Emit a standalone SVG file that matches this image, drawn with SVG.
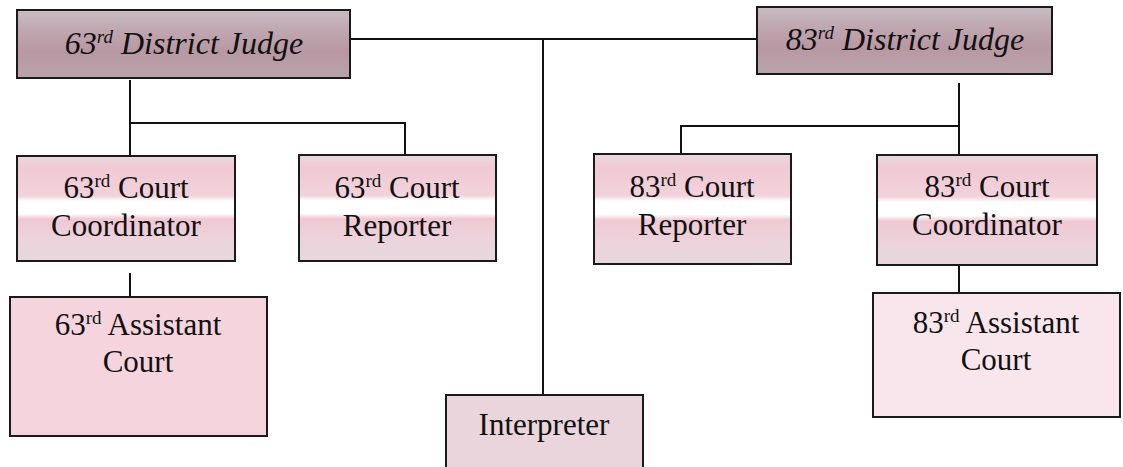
<svg xmlns="http://www.w3.org/2000/svg" width="1123" height="467" viewBox="0 0 1123 467">
<defs>
<linearGradient id="judge" x1="0" y1="0" x2="0" y2="1">
<stop offset="0" stop-color="#c9bcc2"/>
<stop offset="0.3" stop-color="#bfa7b0"/>
<stop offset="0.6" stop-color="#b898a3"/>
<stop offset="1" stop-color="#b9a3ab"/>
</linearGradient>
<linearGradient id="court" x1="0" y1="0" x2="0" y2="1">
<stop offset="0" stop-color="#e9d9df"/>
<stop offset="0.12" stop-color="#f0c9d4"/>
<stop offset="0.38" stop-color="#f2d2db"/>
<stop offset="0.43" stop-color="#ffffff"/>
<stop offset="0.55" stop-color="#ffffff"/>
<stop offset="0.6" stop-color="#f0c8d3"/>
<stop offset="0.8" stop-color="#ecd3dc"/>
<stop offset="1" stop-color="#e6d8de"/>
</linearGradient>
</defs>
<style>
.box{stroke:#1a1a1a;stroke-width:2}
.j{fill:url(#judge)}
.c{fill:url(#court)}
.a1{fill:#f6d4de}
.a2{fill:#f9e6ec}
.ip{fill:#ead5dc}
text{font-family:'Liberation Serif','DejaVu Serif',serif;fill:#111;text-anchor:middle}
.t{font-size:31px}
.ji{font-size:32px;font-style:italic}
.sup{font-size:19px}
.con{stroke:#111;stroke-width:2;fill:none}
</style>
<rect width="1123" height="467" fill="#ffffff"/>
<g id="connectors">
<polyline class="con" points="350,39 757,39"/>
<polyline class="con" points="543,39 543,395"/>
<polyline class="con" points="130,80 130,156"/>
<polyline class="con" points="130,123 405,123 405,155"/>
<polyline class="con" points="130,273 130,297"/>
<polyline class="con" points="959,83 959,155"/>
<polyline class="con" points="681,154 681,126 959,126"/>
<polyline class="con" points="959,265 959,293"/>
</g>
<g id="judge63">
<rect class="box j" x="17" y="10" width="333" height="68"/>
<text class="ji" x="184" y="54" font-family="Liberation Serif">63<tspan class="sup" dy="-11">rd</tspan><tspan dy="11"> District Judge</tspan></text>
</g>
<g id="judge83">
<rect class="box j" x="757" y="7" width="295" height="67"/>
<text class="ji" x="905" y="50" font-family="Liberation Serif">83<tspan class="sup" dy="-11">rd</tspan><tspan dy="11"> District Judge</tspan></text>
</g>
<g id="coord63">
<rect class="box c" x="17" y="156" width="218" height="105"/>
<text class="t" x="126" y="198">63<tspan class="sup" dy="-11">rd</tspan><tspan dy="11"> Court</tspan></text>
<text class="t" x="126" y="236">Coordinator</text>
</g>
<g id="reporter63">
<rect class="box c" x="299" y="155" width="197" height="106"/>
<text class="t" x="397" y="198">63<tspan class="sup" dy="-11">rd</tspan><tspan dy="11"> Court</tspan></text>
<text class="t" x="397" y="236">Reporter</text>
</g>
<g id="reporter83">
<rect class="box c" x="594" y="154" width="197" height="110"/>
<text class="t" x="692" y="197">83<tspan class="sup" dy="-11">rd</tspan><tspan dy="11"> Court</tspan></text>
<text class="t" x="692" y="235">Reporter</text>
</g>
<g id="coord83">
<rect class="box c" x="877" y="155" width="220" height="110"/>
<text class="t" x="987" y="197">83<tspan class="sup" dy="-11">rd</tspan><tspan dy="11"> Court</tspan></text>
<text class="t" x="987" y="235">Coordinator</text>
</g>
<g id="assistant63">
<rect class="box a1" x="10" y="297" width="257" height="139"/>
<text class="t" x="138" y="335">63<tspan class="sup" dy="-11">rd</tspan><tspan dy="11"> Assistant</tspan></text>
<text class="t" x="138" y="372">Court</text>
</g>
<g id="assistant83">
<rect class="box a2" x="873" y="293" width="247" height="124"/>
<text class="t" x="996" y="333">83<tspan class="sup" dy="-11">rd</tspan><tspan dy="11"> Assistant</tspan></text>
<text class="t" x="996" y="370">Court</text>
</g>
<g id="interpreter">
<rect class="box ip" x="446" y="395" width="197" height="80"/>
<text class="t" x="544" y="435">Interpreter</text>
</g>
</svg>
